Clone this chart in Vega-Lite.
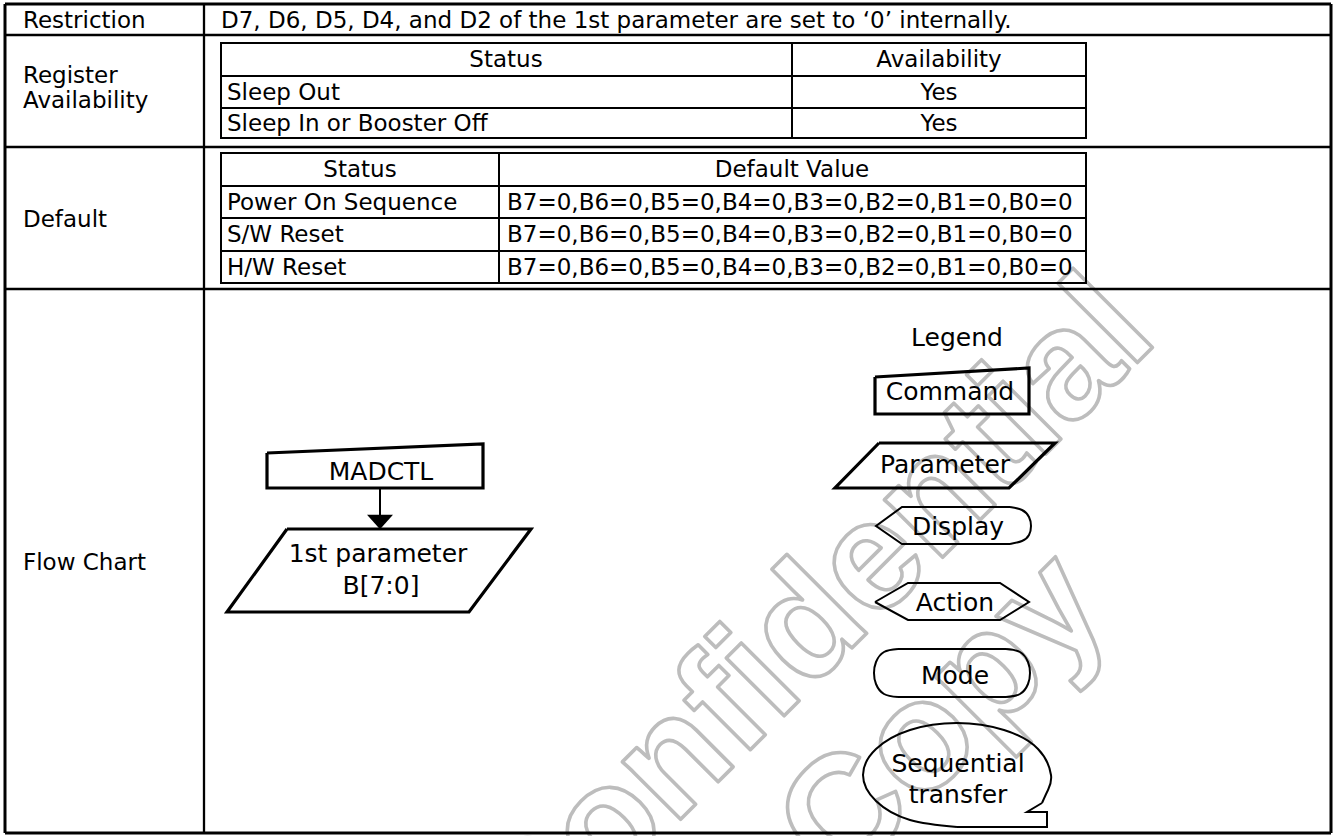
{
  "$schema": "https://vega.github.io/schema/vega-lite/v6.json",
  "width": 1337,
  "height": 836,
  "autosize": "none",
  "padding": 0,
  "background": "white",
  "config": {"view": {"stroke": null}},
  "datasets": {
    "watermark": [
      {"label": "Confidential", "x": 527, "y": 973},
      {"label": "Copy", "x": 840, "y": 888}
    ],
    "frame": [
      {"x": 5, "y": 4, "x2": 1331, "y2": 4},
      {"x": 5, "y": 833, "x2": 1331, "y2": 833},
      {"x": 5, "y": 4, "x2": 5, "y2": 833},
      {"x": 1331, "y": 4, "x2": 1331, "y2": 833}
    ],
    "dividers": [
      {"x": 204, "y": 4, "x2": 204, "y2": 833},
      {"x": 5, "y": 35, "x2": 1331, "y2": 35},
      {"x": 5, "y": 147, "x2": 1331, "y2": 147},
      {"x": 5, "y": 289, "x2": 1331, "y2": 289}
    ],
    "inner": [
      {"x": 221, "y": 43, "x2": 1086, "y2": 43},
      {"x": 221, "y": 76, "x2": 1086, "y2": 76},
      {"x": 221, "y": 108, "x2": 1086, "y2": 108},
      {"x": 221, "y": 138, "x2": 1086, "y2": 138},
      {"x": 221, "y": 43, "x2": 221, "y2": 138},
      {"x": 792, "y": 43, "x2": 792, "y2": 138},
      {"x": 1086, "y": 43, "x2": 1086, "y2": 138},
      {"x": 221, "y": 153, "x2": 1086, "y2": 153},
      {"x": 221, "y": 186, "x2": 1086, "y2": 186},
      {"x": 221, "y": 218, "x2": 1086, "y2": 218},
      {"x": 221, "y": 251, "x2": 1086, "y2": 251},
      {"x": 221, "y": 283, "x2": 1086, "y2": 283},
      {"x": 221, "y": 153, "x2": 221, "y2": 283},
      {"x": 499, "y": 153, "x2": 499, "y2": 283},
      {"x": 1086, "y": 153, "x2": 1086, "y2": 283}
    ],
    "shapesThick": [
      {"id": "madctl", "i": 0, "x": 267, "y": 453},
      {"id": "madctl", "i": 1, "x": 483, "y": 444},
      {"id": "madctl", "i": 2, "x": 483, "y": 488},
      {"id": "madctl", "i": 3, "x": 267, "y": 488},
      {"id": "madctl", "i": 4, "x": 267, "y": 453},
      {"id": "param1", "i": 0, "x": 287, "y": 529},
      {"id": "param1", "i": 1, "x": 531, "y": 529},
      {"id": "param1", "i": 2, "x": 469, "y": 612},
      {"id": "param1", "i": 3, "x": 227, "y": 612},
      {"id": "param1", "i": 4, "x": 287, "y": 529},
      {"id": "command", "i": 0, "x": 875, "y": 377},
      {"id": "command", "i": 1, "x": 1029, "y": 368},
      {"id": "command", "i": 2, "x": 1029, "y": 414},
      {"id": "command", "i": 3, "x": 875, "y": 414},
      {"id": "command", "i": 4, "x": 875, "y": 377},
      {"id": "parameter", "i": 0, "x": 879, "y": 443},
      {"id": "parameter", "i": 1, "x": 1055, "y": 443},
      {"id": "parameter", "i": 2, "x": 1009, "y": 488},
      {"id": "parameter", "i": 3, "x": 835, "y": 488},
      {"id": "parameter", "i": 4, "x": 879, "y": 443}
    ],
    "shapesThin": [
      {"id": "display", "i": 0, "x": 1010, "y": 507},
      {"id": "display", "i": 1, "x": 902, "y": 507},
      {"id": "display", "i": 2, "x": 876, "y": 526},
      {"id": "display", "i": 3, "x": 902, "y": 544},
      {"id": "display", "i": 4, "x": 1010, "y": 544},
      {"id": "action", "i": 0, "x": 875, "y": 602},
      {"id": "action", "i": 1, "x": 908, "y": 583},
      {"id": "action", "i": 2, "x": 1000, "y": 583},
      {"id": "action", "i": 3, "x": 1029, "y": 602},
      {"id": "action", "i": 4, "x": 1000, "y": 620},
      {"id": "action", "i": 5, "x": 908, "y": 620},
      {"id": "action", "i": 6, "x": 875, "y": 602},
      {"id": "modeTop", "i": 0, "x": 898, "y": 649},
      {"id": "modeTop", "i": 1, "x": 1006, "y": 649},
      {"id": "modeBottom", "i": 0, "x": 898, "y": 697},
      {"id": "modeBottom", "i": 1, "x": 1006, "y": 697},
      {"id": "seqTail", "i": 0, "x": 1042, "y": 803},
      {"id": "seqTail", "i": 1, "x": 1027, "y": 812},
      {"id": "seqTail", "i": 2, "x": 1047, "y": 812},
      {"id": "seqTail", "i": 3, "x": 1047, "y": 827},
      {"id": "seqTail", "i": 4, "x": 957, "y": 827},
      {"id": "arrow", "i": 0, "x": 380, "y": 488},
      {"id": "arrow", "i": 1, "x": 380, "y": 517}
    ],
    "curves": [
      {"id": "displayArc", "i": 0, "x": 1010, "y": 507},
      {"id": "displayArc", "i": 1, "x": 1022, "y": 510},
      {"id": "displayArc", "i": 2, "x": 1029, "y": 517},
      {"id": "displayArc", "i": 3, "x": 1031, "y": 526},
      {"id": "displayArc", "i": 4, "x": 1029, "y": 535},
      {"id": "displayArc", "i": 5, "x": 1022, "y": 541},
      {"id": "displayArc", "i": 6, "x": 1010, "y": 544},
      {"id": "modeLeft", "i": 0, "x": 898, "y": 649},
      {"id": "modeLeft", "i": 1, "x": 884, "y": 652},
      {"id": "modeLeft", "i": 2, "x": 876, "y": 662},
      {"id": "modeLeft", "i": 3, "x": 874, "y": 673},
      {"id": "modeLeft", "i": 4, "x": 876, "y": 684},
      {"id": "modeLeft", "i": 5, "x": 884, "y": 694},
      {"id": "modeLeft", "i": 6, "x": 898, "y": 697},
      {"id": "modeRight", "i": 0, "x": 1006, "y": 649},
      {"id": "modeRight", "i": 1, "x": 1020, "y": 652},
      {"id": "modeRight", "i": 2, "x": 1028, "y": 662},
      {"id": "modeRight", "i": 3, "x": 1030, "y": 673},
      {"id": "modeRight", "i": 4, "x": 1028, "y": 684},
      {"id": "modeRight", "i": 5, "x": 1020, "y": 694},
      {"id": "modeRight", "i": 6, "x": 1006, "y": 697},
      {"id": "bubble", "i": 0, "x": 957, "y": 827},
      {"id": "bubble", "i": 1, "x": 910, "y": 820},
      {"id": "bubble", "i": 2, "x": 876, "y": 801},
      {"id": "bubble", "i": 3, "x": 863, "y": 775},
      {"id": "bubble", "i": 4, "x": 876, "y": 749},
      {"id": "bubble", "i": 5, "x": 910, "y": 730},
      {"id": "bubble", "i": 6, "x": 957, "y": 723},
      {"id": "bubble", "i": 7, "x": 1004, "y": 730},
      {"id": "bubble", "i": 8, "x": 1038, "y": 749},
      {"id": "bubble", "i": 9, "x": 1051, "y": 775},
      {"id": "bubble", "i": 10, "x": 1048, "y": 790},
      {"id": "bubble", "i": 11, "x": 1042, "y": 803}
    ],
    "arrowhead": [
      {"x": 380, "y": 522}
    ],
    "textLeft": [
      {"label": "Restriction", "x": 23, "y": 28},
      {"label": "D7, D6, D5, D4, and D2 of the 1st parameter are set to ‘0’ internally.", "x": 221, "y": 28},
      {"label": "Register", "x": 23, "y": 83},
      {"label": "Availability", "x": 23, "y": 108},
      {"label": "Sleep Out", "x": 227, "y": 100},
      {"label": "Sleep In or Booster Off", "x": 227, "y": 131},
      {"label": "Default", "x": 23, "y": 227},
      {"label": "Power On Sequence", "x": 227, "y": 210},
      {"label": "S/W Reset", "x": 227, "y": 242},
      {"label": "H/W Reset", "x": 227, "y": 275},
      {"label": "B7=0,B6=0,B5=0,B4=0,B3=0,B2=0,B1=0,B0=0", "x": 507, "y": 210},
      {"label": "B7=0,B6=0,B5=0,B4=0,B3=0,B2=0,B1=0,B0=0", "x": 507, "y": 242},
      {"label": "B7=0,B6=0,B5=0,B4=0,B3=0,B2=0,B1=0,B0=0", "x": 507, "y": 275},
      {"label": "Flow Chart", "x": 23, "y": 570}
    ],
    "textCenter": [
      {"label": "Status", "x": 506, "y": 67},
      {"label": "Availability", "x": 939, "y": 67},
      {"label": "Yes", "x": 939, "y": 100},
      {"label": "Yes", "x": 939, "y": 131},
      {"label": "Status", "x": 360, "y": 177},
      {"label": "Default Value", "x": 792, "y": 177}
    ],
    "flowText": [
      {"label": "MADCTL", "x": 381, "y": 480},
      {"label": "1st parameter", "x": 378, "y": 562},
      {"label": "B[7:0]", "x": 381, "y": 594},
      {"label": "Legend", "x": 957, "y": 346},
      {"label": "Command", "x": 950, "y": 400},
      {"label": "Parameter", "x": 945, "y": 473},
      {"label": "Display", "x": 958, "y": 535},
      {"label": "Action", "x": 955, "y": 611},
      {"label": "Mode", "x": 955, "y": 684},
      {"label": "Sequential", "x": 958, "y": 772},
      {"label": "transfer", "x": 958, "y": 803}
    ]
  },
  "layer": [
    {
      "data": {"name": "watermark"},
      "mark": {"type": "text", "font": "Liberation Sans", "fontWeight": "bold", "fontSize": 155, "align": "left", "baseline": "alphabetic", "angle": -45, "fill": "transparent", "stroke": "#bdbdbd", "strokeWidth": 3.6, "strokeJoin": "round"},
      "encoding": {
        "x": {"field": "x", "type": "quantitative", "scale": {"domain": [0, 1337], "nice": false, "zero": false}, "axis": null},
        "y": {"field": "y", "type": "quantitative", "scale": {"domain": [0, 836], "reverse": true, "nice": false, "zero": false}, "axis": null},
        "text": {"field": "label"}
      }
    },
    {
      "data": {"name": "frame"},
      "mark": {"type": "rule", "color": "black", "strokeWidth": 3},
      "encoding": {
        "x": {"field": "x", "type": "quantitative", "scale": {"domain": [0, 1337], "nice": false, "zero": false}, "axis": null},
        "y": {"field": "y", "type": "quantitative", "scale": {"domain": [0, 836], "reverse": true, "nice": false, "zero": false}, "axis": null},
        "x2": {"field": "x2"},
        "y2": {"field": "y2"}
      }
    },
    {
      "data": {"name": "dividers"},
      "mark": {"type": "rule", "color": "black", "strokeWidth": 2.3},
      "encoding": {
        "x": {"field": "x", "type": "quantitative", "scale": {"domain": [0, 1337], "nice": false, "zero": false}, "axis": null},
        "y": {"field": "y", "type": "quantitative", "scale": {"domain": [0, 836], "reverse": true, "nice": false, "zero": false}, "axis": null},
        "x2": {"field": "x2"},
        "y2": {"field": "y2"}
      }
    },
    {
      "data": {"name": "inner"},
      "mark": {"type": "rule", "color": "black", "strokeWidth": 2, "strokeCap": "square"},
      "encoding": {
        "x": {"field": "x", "type": "quantitative", "scale": {"domain": [0, 1337], "nice": false, "zero": false}, "axis": null},
        "y": {"field": "y", "type": "quantitative", "scale": {"domain": [0, 836], "reverse": true, "nice": false, "zero": false}, "axis": null},
        "x2": {"field": "x2"},
        "y2": {"field": "y2"}
      }
    },
    {
      "data": {"name": "shapesThick"},
      "mark": {"type": "line", "color": "black", "strokeWidth": 3.2, "strokeJoin": "miter"},
      "encoding": {
        "x": {"field": "x", "type": "quantitative", "scale": {"domain": [0, 1337], "nice": false, "zero": false}, "axis": null},
        "y": {"field": "y", "type": "quantitative", "scale": {"domain": [0, 836], "reverse": true, "nice": false, "zero": false}, "axis": null},
        "detail": {"field": "id"},
        "order": {"field": "i", "type": "quantitative"}
      }
    },
    {
      "data": {"name": "shapesThin"},
      "mark": {"type": "line", "color": "black", "strokeWidth": 2},
      "encoding": {
        "x": {"field": "x", "type": "quantitative", "scale": {"domain": [0, 1337], "nice": false, "zero": false}, "axis": null},
        "y": {"field": "y", "type": "quantitative", "scale": {"domain": [0, 836], "reverse": true, "nice": false, "zero": false}, "axis": null},
        "detail": {"field": "id"},
        "order": {"field": "i", "type": "quantitative"}
      }
    },
    {
      "data": {"name": "curves"},
      "mark": {"type": "line", "color": "black", "strokeWidth": 2, "interpolate": "natural"},
      "encoding": {
        "x": {"field": "x", "type": "quantitative", "scale": {"domain": [0, 1337], "nice": false, "zero": false}, "axis": null},
        "y": {"field": "y", "type": "quantitative", "scale": {"domain": [0, 836], "reverse": true, "nice": false, "zero": false}, "axis": null},
        "detail": {"field": "id"},
        "order": {"field": "i", "type": "quantitative"}
      }
    },
    {
      "data": {"name": "arrowhead"},
      "mark": {"type": "point", "shape": "M-1,-0.55L1,-0.55L0,0.55Z", "filled": true, "color": "black", "opacity": 1, "size": 676},
      "encoding": {
        "x": {"field": "x", "type": "quantitative", "scale": {"domain": [0, 1337], "nice": false, "zero": false}, "axis": null},
        "y": {"field": "y", "type": "quantitative", "scale": {"domain": [0, 836], "reverse": true, "nice": false, "zero": false}, "axis": null}
      }
    },
    {
      "data": {"name": "textLeft"},
      "mark": {"type": "text", "font": "DejaVu Sans", "fontSize": 23, "align": "left", "baseline": "alphabetic", "color": "black"},
      "encoding": {
        "x": {"field": "x", "type": "quantitative", "scale": {"domain": [0, 1337], "nice": false, "zero": false}, "axis": null},
        "y": {"field": "y", "type": "quantitative", "scale": {"domain": [0, 836], "reverse": true, "nice": false, "zero": false}, "axis": null},
        "text": {"field": "label"}
      }
    },
    {
      "data": {"name": "textCenter"},
      "mark": {"type": "text", "font": "DejaVu Sans", "fontSize": 23, "align": "center", "baseline": "alphabetic", "color": "black"},
      "encoding": {
        "x": {"field": "x", "type": "quantitative", "scale": {"domain": [0, 1337], "nice": false, "zero": false}, "axis": null},
        "y": {"field": "y", "type": "quantitative", "scale": {"domain": [0, 836], "reverse": true, "nice": false, "zero": false}, "axis": null},
        "text": {"field": "label"}
      }
    },
    {
      "data": {"name": "flowText"},
      "mark": {"type": "text", "font": "DejaVu Sans", "fontSize": 25, "align": "center", "baseline": "alphabetic", "color": "black"},
      "encoding": {
        "x": {"field": "x", "type": "quantitative", "scale": {"domain": [0, 1337], "nice": false, "zero": false}, "axis": null},
        "y": {"field": "y", "type": "quantitative", "scale": {"domain": [0, 836], "reverse": true, "nice": false, "zero": false}, "axis": null},
        "text": {"field": "label"}
      }
    }
  ]
}
